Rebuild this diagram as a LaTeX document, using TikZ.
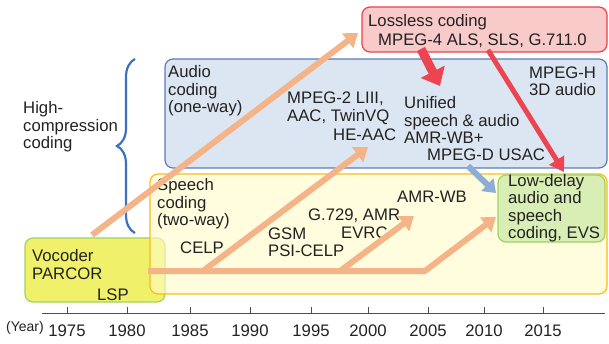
\documentclass[tikz,border=0pt]{standalone}
\usepackage{fontspec}
\setmainfont{Liberation Sans}
\usetikzlibrary{arrows.meta,decorations.pathreplacing}
\definecolor{audfill}{HTML}{DCE6F2}
\definecolor{audline}{HTML}{5A7DB4}
\definecolor{brcol}{HTML}{3E6FC2}
\definecolor{spfill}{HTML}{FFFCC6}
\definecolor{spline}{HTML}{F7BC1E}
\definecolor{vocfill}{HTML}{F0F06A}
\definecolor{grline}{HTML}{9CD462}
\definecolor{ldfill}{HTML}{D8EEB4}
\definecolor{llfill}{HTML}{F9CACA}
\definecolor{llline}{HTML}{E8424A}
\definecolor{orarw}{HTML}{F5B487}
\definecolor{redarw}{HTML}{EC4450}
\definecolor{bluarw}{HTML}{8EACD8}
\definecolor{txt}{HTML}{222222}
\newcommand{\oarw}{-{Triangle[length=13pt,width=18pt]}}
\newcommand{\txtsize}{\fontsize{16.7}{17.5}\selectfont}

\begin{document}
\begin{tikzpicture}[x=1pt,y=-1pt,
  box/.style={rounded corners=8pt,line width=1.2pt},
  lbl/.style={anchor=west,inner sep=0pt,align=left,text=txt,font=\txtsize},
  trend/.style={draw=orarw,line width=6pt,line join=round}]
\useasboundingbox (0,0) rectangle (609,344);
% boxes
\draw[box,draw=audline,fill=audfill] (165,59) rectangle (607,168);
\draw[box,draw=grline,fill=vocfill] (25,238) rectangle (165,302);
\draw[box,draw=spline,fill=spfill,fill opacity=0.6] (150,174) rectangle (607,294);
\draw[box,draw=grline,fill=ldfill] (498,175) rectangle (605,242);
\draw[box,draw=llline,fill=llfill] (362,7) rectangle (607,52);
% brace
\draw[brcol,line width=2.2pt,decorate,decoration={brace,amplitude=18pt}]
  (135,233) -- (135,59);
% texts
\node[lbl] (hc) at (23,127) {High-\\compression\\coding};
\node[lbl] (aud) at (168,91) {Audio\\coding\\(one-way)};
\node[lbl] (mp2) at (287,108.5) {MPEG-2 LIII,\\AAC, TwinVQ};
\node[lbl] (heaac) at (333,135) {HE-AAC};
\node[lbl] (usc) at (404,120) {Unified\\speech \& audio\\AMR-WB+};
\node[lbl] (usac) at (427,155) {MPEG-D USAC};
\node[lbl] (mph) at (529,81.5) {MPEG-H\\3D audio};
\node[lbl] (ll) at (368,22) {Lossless coding};
\node[lbl] (als) at (378,41) {MPEG-4 ALS, SLS, G.711.0};
\node[lbl] (sp) at (157,204) {Speech\\coding\\(two-way)};
\node[lbl] (celp) at (180,248) {CELP};
\node[lbl] (gsm) at (268,242.5) {GSM\\PSI-CELP};
\node[lbl] (g729) at (308,216) {G.729, AMR};
\node[lbl] (evrc) at (341,233) {EVRC};
\node[lbl] (amrwb) at (397,197) {AMR-WB};
\node[lbl] (ld) at (508,208) {Low-delay\\audio and\\speech\\coding, EVS};
\node[lbl] (voc) at (32,264.5) {Vocoder\\PARCOR};
\node[lbl] (lsp) at (97,295) {LSP};
% arrow ends
\coordinate (vtop) at (92,235);
\coordinate (lleft) at (358,33);
\coordinate (hstart) at (148,271);
\coordinate (hbend) at (425,271);
\coordinate (ldtip) at (496,217);
\coordinate (b1) at (203,271);
\coordinate (heaactip) at (368,147);
\coordinate (b2) at (340,271);
\coordinate (amrtip) at (414,216);
\coordinate (lla) at (421,49);
\coordinate (llatip) at (440,86);
\coordinate (llb) at (488,50);
\coordinate (llbtip) at (564,172);
\coordinate (usacb) at (468,166);
\coordinate (ldin) at (496,193);
% trend arrows
\draw[trend,\oarw] (vtop) -- (lleft);
\draw[trend,\oarw] (hstart) -- (hbend) -- (ldtip);
\draw[trend,\oarw] (b1) -- (heaactip);
\draw[trend,\oarw] (b2) -- (amrtip);
\draw[redarw,line width=9pt,-{Triangle[length=16pt,width=26pt]}] (lla) -- (llatip);
\draw[redarw,line width=5pt,-{Triangle[length=14pt,width=17pt]}] (llb) -- (llbtip);
\draw[bluarw,line width=6pt,-{Triangle[length=12pt,width=17pt]}] (usacb) -- (ldin);
% year axis
\draw[txt!80,line width=1pt] (42,313) -- (605,313);
\node[anchor=west,inner sep=0pt,text=txt,font=\fontsize{14}{16}\selectfont] (yr) at (6,328) {(Year)};
\foreach \x/\yy in {67/1975,127/1980,190/1985,250/1990,311/1995,368/2000,428/2005,484/2010,543/2015}
  {\draw[txt!80,line width=1pt] (\x,313) -- (\x,307);
   \node[inner sep=0pt,text=txt,font=\txtsize] (t\yy) at (\x,331) {\yy};}
\end{tikzpicture}
\end{document}
